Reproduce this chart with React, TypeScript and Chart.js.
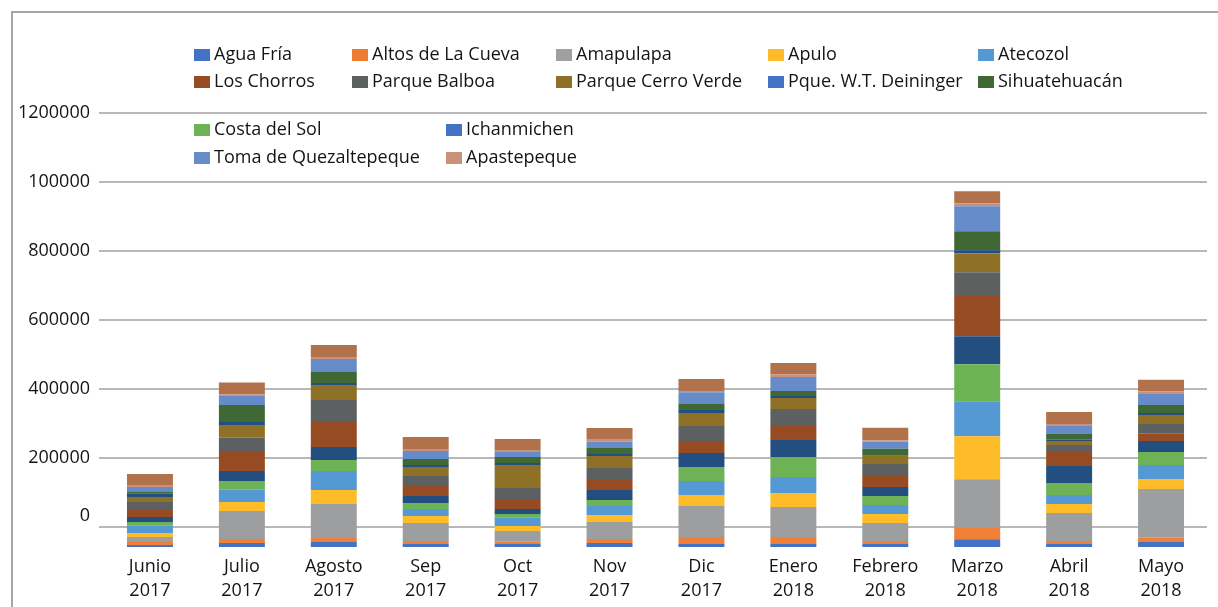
import React, { useEffect, useRef } from "react";
import { Chart, registerables } from "chart.js";

Chart.register(...registerables);

const MONTHS = [
  ["Junio", "2017"], ["Julio", "2017"], ["Agosto", "2017"], ["Sep", "2017"],
  ["Oct", "2017"], ["Nov", "2017"], ["Dic", "2017"], ["Enero", "2018"],
  ["Febrero", "2018"], ["Marzo", "2018"], ["Abril", "2018"], ["Mayo", "2018"],
];

const AGUA_FRIA = [5800, 11600, 14500, 8700, 8700, 11600, 8700, 8700, 8700, 22300, 8700, 14500];
const ALTOS = [8700, 11600, 11600, 8700, 6700, 11600, 20300, 20300, 8700, 32800, 8700, 12500];
const AMAPULAPA = [14500, 81200, 98600, 52200, 31000, 49300, 89900, 87000, 52200, 141200, 81200, 141200];
const APULO = [11600, 26100, 40600, 20300, 14500, 20300, 31900, 40600, 26100, 124700, 26100, 29000];
const ATECOZOL = [21200, 35700, 55100, 20300, 24100, 26100, 40600, 46400, 26100, 101500, 26100, 40600];
const COSTA_DEL_SOL = [10700, 25200, 31900, 17400, 10700, 17400, 40600, 58000, 26100, 107300, 34800, 37700];
const ICHANMICHEN = [14500, 29000, 37700, 20300, 14500, 29000, 40600, 49300, 26100, 81200, 49300, 31900];
const LOS_CHORROS = [20300, 58000, 75400, 29000, 26100, 29000, 34800, 40600, 31900, 116900, 43500, 21200];
const PARQUE_BALBOA = [23200, 38600, 60900, 29000, 34800, 34800, 43500, 49300, 34800, 68700, 17400, 28100];
const CERRO_VERDE = [14500, 36800, 43500, 26100, 66700, 34800, 37700, 31900, 23200, 55100, 11600, 26100];
const DEININGER = [9600, 8700, 5800, 5800, 5800, 5800, 8700, 5800, 1500, 8700, 3800, 5800];
const SIHUATEHUACAN = [4900, 49300, 31900, 17400, 17400, 17400, 17400, 14500, 19400, 55100, 16500, 23200];
const TOMA = [14500, 26100, 37700, 23200, 14500, 18300, 33900, 40600, 20300, 72500, 23200, 33900];
const APASTEPEQUE = [3800, 3800, 5800, 3800, 3800, 5800, 3800, 6700, 3800, 8700, 5800, 4900];
const OTROS = [33900, 34800, 34800, 36800, 33900, 33900, 34800, 33900, 36800, 34800, 34800, 33900];

const Y_LABELS = ["0", "200000", "400000", "600000", "800000", "100000", "1200000"];
const Y_ZERO = 58000;
const Y_STEP = 200000;
const Y_MAX = 1258000;

const SERIES = [
  { label: "Agua Fría", data: AGUA_FRIA, color: "#4472C4", legend: "#4472C4" },
  { label: "Altos de La Cueva", data: ALTOS, color: "#F08038", legend: "#ED7D31" },
  { label: "Amapulapa", data: AMAPULAPA, color: "#9D9E9F", legend: "#A0A0A0" },
  { label: "Apulo", data: APULO, color: "#FEBD28", legend: "#FEBD28" },
  { label: "Atecozol", data: ATECOZOL, color: "#5499D3", legend: "#5499D3" },
  { label: "Costa del Sol", data: COSTA_DEL_SOL, color: "#6DB254", legend: "#6DB254" },
  { label: "Ichanmichen", data: ICHANMICHEN, color: "#224F80", legend: "#4472C4" },
  { label: "Los Chorros", data: LOS_CHORROS, color: "#974B22", legend: "#974B22" },
  { label: "Parque Balboa", data: PARQUE_BALBOA, color: "#5D6061", legend: "#5D6061" },
  { label: "Parque Cerro Verde", data: CERRO_VERDE, color: "#8E7027", legend: "#8E7027" },
  { label: "Pque. W.T. Deininger", data: DEININGER, color: "#224F80", legend: "#4472C4" },
  { label: "Sihuatehuacán", data: SIHUATEHUACAN, color: "#3F6834", legend: "#3F6834" },
  { label: "Toma de Quezaltepeque", data: TOMA, color: "#668BC9", legend: "#668BC9" },
  { label: "Apastepeque", data: APASTEPEQUE, color: "#C9907A", legend: "#C9907A" },
  { label: "Otros", data: OTROS, color: "#B0714B", legend: "" },
];

const LEGEND_ROWS = [
  ["Agua Fría", "Altos de La Cueva", "Amapulapa", "Apulo", "Atecozol"],
  ["Los Chorros", "Parque Balboa", "Parque Cerro Verde", "Pque. W.T. Deininger", "Sihuatehuacán"],
  ["Costa del Sol", "Ichanmichen"],
  ["Toma de Quezaltepeque", "Apastepeque"],
];

const FONT = "'Open Sans', 'Noto Sans', sans-serif";
const TEXT = "#141414";

const framePlugin = {
  id: "frameLegend",
  beforeDraw(chart: any) {
    const ctx = chart.ctx;
    ctx.save();
    ctx.fillStyle = "#ffffff";
    ctx.fillRect(0, 0, chart.width, chart.height);
    ctx.strokeStyle = "#A6A6A6";
    ctx.lineWidth = 2;
    ctx.beginPath();
    ctx.moveTo(12, chart.height + 5);
    ctx.lineTo(12, 12);
    ctx.lineTo(chart.width + 5, 12);
    ctx.stroke();
    ctx.restore();
  },
  afterDraw(chart: any) {
    const ctx = chart.ctx;
    const rowY = [55, 82, 130, 158];
    const colsWide = [194, 352, 556, 768, 978];
    const colsNarrow = [194, 446];
    ctx.save();
    ctx.font = `18px ${FONT}`;
    ctx.textBaseline = "middle";
    ctx.textAlign = "left";
    LEGEND_ROWS.forEach((row, r) => {
      const cols = r < 2 ? colsWide : colsNarrow;
      row.forEach((name, c) => {
        const s = SERIES.find((x) => x.label === name)!;
        const x = cols[c];
        const y = rowY[r];
        ctx.fillStyle = s.legend;
        ctx.fillRect(x, y - 6, 16, 12);
        ctx.fillStyle = TEXT;
        ctx.fillText(name, x + 20, y);
      });
    });
    ctx.restore();
  },
};

export default function App() {
  const ref = useRef<HTMLCanvasElement | null>(null);

  useEffect(() => {
    if (!ref.current) return;
    const chart = new Chart(ref.current, {
      type: "bar",
      data: {
        labels: MONTHS,
        datasets: SERIES.map((s) => ({
          label: s.label,
          data: s.data,
          backgroundColor: s.color,
          borderWidth: 0,
          barPercentage: 0.5,
          categoryPercentage: 1,
        })),
      },
      options: {
        responsive: false,
        animation: false,
        devicePixelRatio: 1,
        layout: { padding: { top: 113, right: 11, left: 0, bottom: 0 } },
        plugins: {
          legend: { display: false },
          title: { display: false },
          tooltip: { enabled: false },
        },
        scales: {
          x: {
            stacked: true,
            grid: { display: false, drawTicks: false },
            border: { display: false },
            ticks: {
              color: TEXT,
              font: { family: FONT, size: 18, lineHeight: 1.38 },
              padding: 7,
              maxRotation: 0,
              autoSkip: false,
            },
            afterFit: (scale: any) => {
              scale.height = 60;
            },
          },
          y: {
            stacked: true,
            min: 0,
            max: Y_MAX,
            grid: { color: "#B8B8B8", lineWidth: 2, tickLength: 5 },
            border: { display: false },
            ticks: {
              color: TEXT,
              font: { family: FONT, size: 18, lineHeight: 1.2 },
              padding: 9,
              autoSkip: false,
              callback: (_v: any, i: number) => (i === 0 ? [Y_LABELS[0], ""] : Y_LABELS[i]),
            },
            afterBuildTicks: (scale: any) => {
              scale.ticks = Y_LABELS.map((_, i) => ({ value: Y_ZERO + i * Y_STEP }));
            },
            afterFit: (scale: any) => {
              scale.width = 104;
            },
          },
        },
      },
      plugins: [framePlugin],
    });
    return () => chart.destroy();
  }, []);

  return (
    <div style={{ position: "fixed", left: 0, top: 0, width: 1218, height: 607, background: "#fff" }}>
      <canvas ref={ref} width={1218} height={607} style={{ width: 1218, height: 607, display: "block" }} />
    </div>
  );
}
